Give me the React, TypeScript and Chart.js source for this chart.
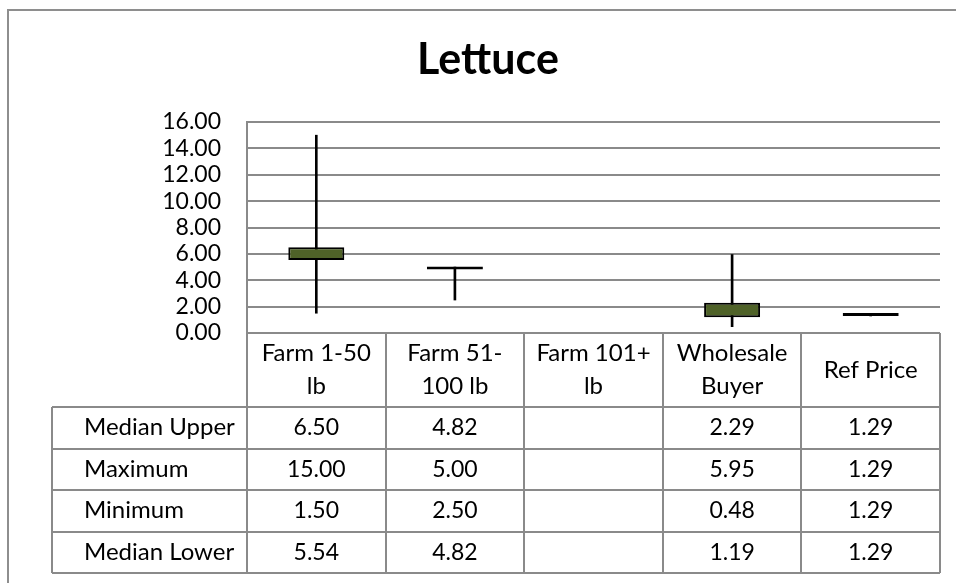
import { useEffect, useRef } from "react";
import { Chart, registerables } from "chart.js";

Chart.register(...registerables);

// Lettuce price spread per seller type
const chartTitle = "Lettuce";
const categories: string[][] = [
  ["Farm 1-50", "lb"],
  ["Farm 51-", "100 lb"],
  ["Farm 101+", "lb"],
  ["Wholesale", "Buyer"],
  ["Ref Price"],
];
const medianUpper: (number | null)[] = [6.5, 4.82, null, 2.29, 1.29];
const maximum: (number | null)[] = [15.0, 5.0, null, 5.95, 1.29];
const minimum: (number | null)[] = [1.5, 2.5, null, 0.48, 1.29];
const medianLower: (number | null)[] = [5.54, 4.82, null, 1.19, 1.29];
const rowLabels = ["Median Upper", "Maximum", "Minimum", "Median Lower"];
const rowValues = [medianUpper, maximum, minimum, medianLower];
const yMin = 0;
const yMax = 16;
const yStep = 2;

const FONT = "Lato, 'Noto Sans', sans-serif";
const GRID = "#8a8a8a";
const BOX_FILL = "#4f6228";

const pair = (lo: (number | null)[], hi: (number | null)[]) =>
  lo.map((v, i) => (v == null || hi[i] == null ? null : [v, hi[i] as number]));

// Frame, title and the data table underneath the plot
const decorPlugin = {
  id: "decor",
  afterDraw(chart: any) {
    const { ctx, chartArea } = chart;
    const left = chartArea.left;
    const right = chartArea.right;
    const top = chartArea.bottom;
    const n = categories.length;
    const cw = (right - left) / n;
    const headerH = 74;
    const rowH = 41.5;
    const labelLeft = 52;
    const tableBottom = top + headerH + rowH * rowLabels.length;

    ctx.save();
    // outer frame
    ctx.strokeStyle = "#8e8e8e";
    ctx.lineWidth = 2;
    ctx.strokeRect(8, 10, 2000, 2000);

    // title
    ctx.fillStyle = "#000";
    ctx.font = `bold 43px ${FONT}`;
    ctx.textAlign = "center";
    ctx.textBaseline = "alphabetic";
    ctx.fillText(chartTitle, 488, 74);

    // table grid
    ctx.strokeStyle = GRID;
    ctx.lineWidth = 2;
    ctx.beginPath();
    ctx.moveTo(left, top);
    ctx.lineTo(right, top);
    for (let i = 0; i <= n; i++) {
      const x = Math.round(left + cw * i);
      ctx.moveTo(x, top);
      ctx.lineTo(x, tableBottom);
    }
    ctx.moveTo(labelLeft, top + headerH);
    ctx.lineTo(labelLeft, tableBottom);
    for (let r = 0; r <= rowLabels.length; r++) {
      const y = Math.round(top + headerH + rowH * r);
      ctx.moveTo(labelLeft, y);
      ctx.lineTo(right, y);
    }
    ctx.stroke();

    // header text
    ctx.fillStyle = "#000";
    ctx.font = `24px ${FONT}`;
    ctx.textAlign = "center";
    ctx.textBaseline = "middle";
    const lineH = 33;
    categories.forEach((lines, i) => {
      const cx = left + cw * (i + 0.5);
      const cy = top + headerH / 2;
      lines.forEach((t, k) => {
        ctx.fillText(t, cx, cy + (k - (lines.length - 1) / 2) * lineH);
      });
    });

    // row labels and values
    rowLabels.forEach((label, r) => {
      const cy = top + headerH + rowH * (r + 0.5);
      ctx.font = `24px ${FONT}`;
      ctx.textAlign = "left";
      ctx.fillText(label, 84, cy);
      ctx.font = `23px ${FONT}`;
      ctx.textAlign = "center";
      rowValues[r].forEach((v, i) => {
        if (v == null) return;
        ctx.fillText(v.toFixed(2), left + cw * (i + 0.5), cy);
      });
    });
    ctx.restore();
  },
};

export default function App() {
  const canvasRef = useRef<HTMLCanvasElement | null>(null);

  useEffect(() => {
    document.body.style.margin = "0";
    const canvas = canvasRef.current;
    if (!canvas) return;
    const chart = new Chart(canvas, {
      type: "bar",
      data: {
        labels: categories.map((c) => c.join(" ")),
        datasets: [
          {
            label: "Median range",
            data: pair(medianLower, medianUpper) as any,
            backgroundColor: BOX_FILL,
            borderColor: "#000",
            borderWidth: 2,
            borderSkipped: false,
            minBarLength: 3,
            grouped: false,
            categoryPercentage: 1,
            barPercentage: 0.404,
          },
          {
            label: "Min-Max",
            data: pair(minimum, maximum) as any,
            backgroundColor: "#000",
            borderWidth: 0,
            grouped: false,
            barThickness: 2,
          },
        ],
      },
      options: {
        responsive: false,
        animation: false,
        layout: { padding: { top: 122, bottom: 250, left: 0, right: 16 } },
        plugins: {
          legend: { display: false },
          tooltip: { enabled: false },
          title: { display: false },
        },
        scales: {
          x: { display: false, offset: true },
          y: {
            min: yMin,
            max: yMax,
            afterFit: (s: any) => {
              s.width = 247;
            },
            ticks: {
              stepSize: yStep,
              autoSkip: false,
              padding: 26,
              color: "#000",
              font: { family: FONT, size: 23 },
              callback: (v: any) => Number(v).toFixed(2),
            },
            grid: { color: GRID, lineWidth: 2, drawTicks: false },
            border: { color: GRID, width: 2 },
          },
        },
      },
      plugins: [decorPlugin],
    });
    return () => chart.destroy();
  }, []);

  return (
    <canvas
      ref={canvasRef}
      width={956}
      height={583}
      style={{ position: "absolute", left: 0, top: 0, display: "block" }}
    />
  );
}
